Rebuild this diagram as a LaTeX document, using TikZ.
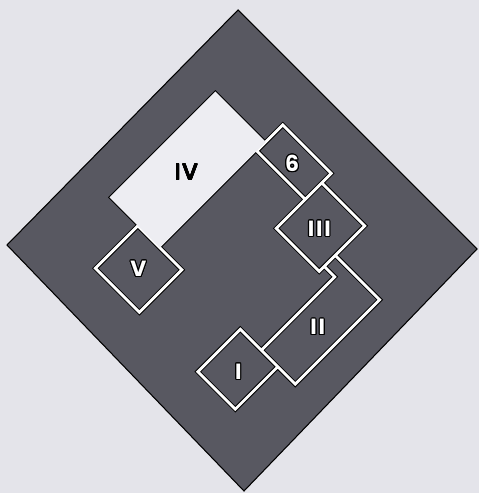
\documentclass[tikz,border=0pt]{standalone}
\usepackage{fontspec}
\setsansfont{Poppins}[LetterSpace=8]
\usepackage{contour}
\contourlength{0.6pt}
\usepackage{tikz}
\definecolor{paper}{RGB}{228,228,234}
\definecolor{floor}{RGB}{88,88,97}
\definecolor{hall}{RGB}{237,237,242}

\begin{document}
\begin{tikzpicture}[
  x=0.02cm, y=-0.02cm,
  uv/.style={x={(0.01cm,-0.01cm)}, y={(-0.01cm,-0.01cm)}},
  wall/.style={draw=black, line width=0.55pt, double=white, double distance=1.6pt},
  lbl/.style={font=\sffamily\fontsize{13}{13}\selectfont, inner sep=0pt},
  darklbl/.style={lbl, font=\sffamily\bfseries\fontsize{12.5}{12.5}\selectfont, text=white}
]
\useasboundingbox (0,0) rectangle (479,493);
\fill[paper] (0,0) rectangle (479,493);
% outer square
\filldraw[fill=floor, draw=black, line width=0.6pt]
  (238,10) -- (477,249) -- (244,491) -- (7,245) -- cycle;
\begin{scope}[uv]
  % hall IV
  \filldraw[fill=hall, draw=black, line width=1.1pt]
    (307,-124) -- (408,-124) -- (408,88) -- (307,88) -- cycle;
  % rooms V, 6, III, II, I
  \draw[wall]
    (364,88) -- (452,88) -- (452,173) -- (364,173) -- cycle
    (408,-158) -- (505,-158) -- (505,-106) -- (408,-106) -- cycle
    (505,-139) -- (591,-139) -- (591,-48) -- (505,-48) -- cycle
    (591,-80) -- (680,-80) -- (680,89) -- (612,89) -- (612,-58) -- (591,-58) -- cycle
    (570,89) -- (645,89) -- (645,174) -- (570,174) -- cycle;
  \fill[hall] (307,-124) -- (408,-124) -- (408,88) -- (307,88) -- cycle;
  % labels
  \node[lbl] (iv) at (359,-14) {\contourlength{0.3pt}\contour{black}{IV}};
  \node[darklbl] (v) at (408,131) {\contour{black}{V}};
  \node[darklbl] (six) at (456.5,-128) {\contour{black}{6}};
  \node[darklbl] (iii) at (549,-90) {\contour{black}{III}};
  \node[darklbl] (ii) at (646,10) {\contour{black}{II}};
  \node[darklbl] (i) at (611,134) {\contour{black}{I}};
\end{scope}
\end{tikzpicture}
\end{document}
